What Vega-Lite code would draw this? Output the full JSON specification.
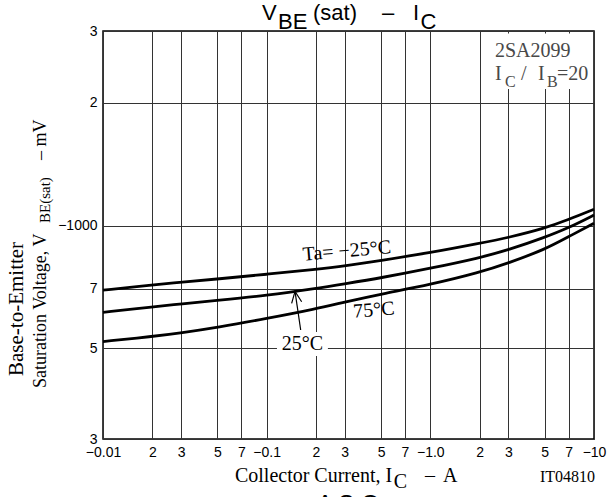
{
  "$schema": "https://vega.github.io/schema/vega-lite/v6.json",
  "width": 491,
  "height": 408,
  "autosize": "none",
  "padding": {"left": 103, "top": 31, "right": 14, "bottom": 58},
  "background": "white",
  "config": {
    "view": {"stroke": "black", "strokeWidth": 1.5},
    "axis": {
      "grid": true, "gridColor": "#333333", "gridWidth": 1, "gridOpacity": 1,
      "ticks": false, "domain": false, "title": null,
      "labelFont": "Liberation Sans", "labelFontSize": 14, "labelColor": "black",
      "labelPadding": 6
    }
  },
  "datasets": {
    "curves": [
      {"T": "-25", "I": 0.01, "V": 695}, {"T": "-25", "I": 0.02, "V": 715}, {"T": "-25", "I": 0.03, "V": 727},
      {"T": "-25", "I": 0.05, "V": 740}, {"T": "-25", "I": 0.1, "V": 760}, {"T": "-25", "I": 0.2, "V": 782},
      {"T": "-25", "I": 0.3, "V": 797}, {"T": "-25", "I": 0.5, "V": 822}, {"T": "-25", "I": 1, "V": 858},
      {"T": "-25", "I": 2, "V": 905}, {"T": "-25", "I": 3, "V": 935}, {"T": "-25", "I": 5, "V": 985},
      {"T": "-25", "I": 7, "V": 1035}, {"T": "-25", "I": 10, "V": 1097},
      {"T": "25", "I": 0.01, "V": 613}, {"T": "25", "I": 0.02, "V": 632}, {"T": "25", "I": 0.03, "V": 643},
      {"T": "25", "I": 0.05, "V": 656}, {"T": "25", "I": 0.1, "V": 674}, {"T": "25", "I": 0.2, "V": 701},
      {"T": "25", "I": 0.3, "V": 720}, {"T": "25", "I": 0.5, "V": 745}, {"T": "25", "I": 1, "V": 786},
      {"T": "25", "I": 2, "V": 834}, {"T": "25", "I": 3, "V": 872}, {"T": "25", "I": 5, "V": 936},
      {"T": "25", "I": 7, "V": 988}, {"T": "25", "I": 10, "V": 1062},
      {"T": "75", "I": 0.01, "V": 520}, {"T": "75", "I": 0.02, "V": 535}, {"T": "75", "I": 0.03, "V": 546},
      {"T": "75", "I": 0.05, "V": 563}, {"T": "75", "I": 0.1, "V": 592}, {"T": "75", "I": 0.2, "V": 625},
      {"T": "75", "I": 0.3, "V": 650}, {"T": "75", "I": 0.5, "V": 680}, {"T": "75", "I": 1, "V": 717},
      {"T": "75", "I": 2, "V": 768}, {"T": "75", "I": 3, "V": 810}, {"T": "75", "I": 5, "V": 874},
      {"T": "75", "I": 7, "V": 940}, {"T": "75", "I": 10, "V": 1014}
    ]
  },
  "layer": [
    {
      "data": {"name": "curves"},
      "mark": {"type": "line", "interpolate": "basis", "color": "black", "strokeWidth": 2.8},
      "encoding": {
        "x": {"field": "I", "type": "quantitative",
          "scale": {"type": "log", "domain": [0.01, 10], "nice": false},
          "axis": {
            "values": [0.01, 0.02, 0.03, 0.05, 0.07, 0.1, 0.2, 0.3, 0.5, 0.7, 1, 2, 3, 5, 7, 10],
            "labelExpr": "datum.value == 0.01 ? '−0.01' : datum.value == 0.1 ? '−0.1' : datum.value == 1 ? '−1.0' : datum.value == 10 ? '−10' : toString(round(datum.value / pow(10, floor(log(datum.value) / LN10 + 0.0001))))",
            "labelFlush": false, "labelOverlap": false
          }},
        "y": {"field": "V", "type": "quantitative",
          "scale": {"type": "log", "domain": [300, 3000], "nice": false},
          "axis": {
            "values": [300, 500, 700, 1000, 2000, 3000],
            "labelExpr": "datum.value == 1000 ? '−1000' : toString(round(datum.value / pow(10, floor(log(datum.value) / LN10 + 0.0001))))",
            "labelFlush": false, "labelOverlap": false
          }},
        "detail": {"field": "T"}
      }
    },
    {
      "data": {"values": [
        {"x1": 0.1156, "x2": 0.2367, "y1": 549, "y2": 479},
        {"x1": 2.3, "x2": 9.85, "y1": 2960, "y2": 2163}
      ]},
      "mark": {"type": "rect", "fill": "white"},
      "encoding": {
        "x": {"field": "x1", "type": "quantitative"},
        "x2": {"field": "x2"},
        "y": {"field": "y1", "type": "quantitative"},
        "y2": {"field": "y2"}
      }
    },
    {
      "data": {"values": [
        {"seg": "shaft", "o": 1, "I": 0.149, "V": 690},
        {"seg": "shaft", "o": 2, "I": 0.1614, "V": 555},
        {"seg": "head", "o": 1, "I": 0.1421, "V": 645},
        {"seg": "head", "o": 2, "I": 0.149, "V": 690},
        {"seg": "head", "o": 3, "I": 0.1636, "V": 651}
      ]},
      "mark": {"type": "line", "color": "black", "strokeWidth": 1.2},
      "encoding": {
        "x": {"field": "I", "type": "quantitative"},
        "y": {"field": "V", "type": "quantitative"},
        "detail": {"field": "seg"},
        "order": {"field": "o"}
      }
    },
    {
      "data": {"values": [
        {"t": "V", "I": 0.0936, "V": 3193},
        {"t": "BE", "I": 0.1173, "V": 3042},
        {"t": "(sat)", "I": 0.1919, "V": 3193},
        {"t": "–", "I": 0.506, "V": 3193},
        {"t": "I", "I": 0.783, "V": 3193},
        {"t": "C", "I": 0.87, "V": 3042}
      ]},
      "mark": {"type": "text", "font": "Liberation Sans", "fontSize": 22, "align": "left", "baseline": "alphabetic", "color": "black"},
      "encoding": {
        "x": {"field": "I", "type": "quantitative"},
        "y": {"field": "V", "type": "quantitative"},
        "text": {"field": "t"}
      }
    },
    {
      "data": {"values": [
        {"t": "2SA2099", "I": 2.48, "V": 2590},
        {"t": "I", "I": 2.48, "V": 2275},
        {"t": "/", "I": 3.58, "V": 2275},
        {"t": "I", "I": 4.55, "V": 2275},
        {"t": "=20", "I": 5.933, "V": 2275}
      ]},
      "mark": {"type": "text", "font": "Liberation Serif", "fontSize": 20, "align": "left", "baseline": "alphabetic", "color": "#484848"},
      "encoding": {
        "x": {"field": "I", "type": "quantitative"},
        "y": {"field": "V", "type": "quantitative"},
        "text": {"field": "t"}
      }
    },
    {
      "data": {"values": [
        {"t": "C", "I": 2.856, "V": 2187},
        {"t": "B", "I": 5.155, "V": 2187}
      ]},
      "mark": {"type": "text", "font": "Liberation Serif", "fontSize": 16, "align": "left", "baseline": "alphabetic", "color": "#484848"},
      "encoding": {
        "x": {"field": "I", "type": "quantitative"},
        "y": {"field": "V", "type": "quantitative"},
        "text": {"field": "t"}
      }
    },
    {
      "data": {"values": [
        {"t": "Ta= −25°C", "I": 0.309, "V": 867},
        {"t": "75°C", "I": 0.452, "V": 621}
      ]},
      "mark": {"type": "text", "font": "Liberation Serif", "fontSize": 20, "align": "center", "baseline": "middle", "angle": 355, "color": "black"},
      "encoding": {
        "x": {"field": "I", "type": "quantitative"},
        "y": {"field": "V", "type": "quantitative"},
        "text": {"field": "t"}
      }
    },
    {
      "data": {"values": [
        {"t": "25°C", "I": 0.1655, "V": 514}
      ]},
      "mark": {"type": "text", "font": "Liberation Serif", "fontSize": 20, "align": "center", "baseline": "middle", "color": "black"},
      "encoding": {
        "x": {"field": "I", "type": "quantitative"},
        "y": {"field": "V", "type": "quantitative"},
        "text": {"field": "t"}
      }
    },
    {
      "data": {"values": [
        {"t": "Collector Current, I", "I": 0.064, "V": 234.9},
        {"t": "–", "I": 0.9268, "V": 234.9},
        {"t": "A", "I": 1.194, "V": 234.9}
      ]},
      "mark": {"type": "text", "font": "Liberation Serif", "fontSize": 20, "align": "left", "baseline": "alphabetic", "color": "black"},
      "encoding": {
        "x": {"field": "I", "type": "quantitative"},
        "y": {"field": "V", "type": "quantitative"},
        "text": {"field": "t"}
      }
    },
    {
      "data": {"values": [
        {"t": "C", "I": 0.5975, "V": 227.6}
      ]},
      "mark": {"type": "text", "font": "Liberation Serif", "fontSize": 20, "align": "left", "baseline": "alphabetic", "color": "black"},
      "encoding": {
        "x": {"field": "I", "type": "quantitative"},
        "y": {"field": "V", "type": "quantitative"},
        "text": {"field": "t"}
      }
    },
    {
      "data": {"values": [
        {"t": "IT04810", "I": 4.673, "V": 234.9}
      ]},
      "mark": {"type": "text", "font": "Liberation Serif", "fontSize": 16, "align": "left", "baseline": "alphabetic", "color": "black"},
      "encoding": {
        "x": {"field": "I", "type": "quantitative"},
        "y": {"field": "V", "type": "quantitative"},
        "text": {"field": "t"}
      }
    },
    {
      "data": {"values": [
        {"t": "A S O", "I": 0.2028, "V": 198.6}
      ]},
      "mark": {"type": "text", "font": "Liberation Sans", "fontSize": 24, "align": "left", "baseline": "alphabetic", "color": "black"},
      "encoding": {
        "x": {"field": "I", "type": "quantitative"},
        "y": {"field": "V", "type": "quantitative"},
        "text": {"field": "t"}
      }
    },
    {
      "data": {"values": [
        {"t": "Base-to-Emitter", "I": 0.003245, "V": 625}
      ]},
      "mark": {"type": "text", "font": "Liberation Serif", "fontSize": 21, "align": "center", "baseline": "alphabetic", "angle": 270, "color": "black"},
      "encoding": {
        "x": {"field": "I", "type": "quantitative"},
        "y": {"field": "V", "type": "quantitative"},
        "text": {"field": "t"}
      }
    },
    {
      "data": {"values": [
        {"t": "Saturation Voltage, V", "I": 0.004486, "V": 400},
        {"t": "–  mV", "I": 0.004486, "V": 1449}
      ]},
      "mark": {"type": "text", "font": "Liberation Serif", "fontSize": 18, "align": "left", "baseline": "alphabetic", "angle": 270, "color": "black"},
      "encoding": {
        "x": {"field": "I", "type": "quantitative"},
        "y": {"field": "V", "type": "quantitative"},
        "text": {"field": "t"}
      }
    },
    {
      "data": {"values": [
        {"t": "BE(sat)", "I": 0.004745, "V": 1015}
      ]},
      "mark": {"type": "text", "font": "Liberation Serif", "fontSize": 15, "align": "left", "baseline": "alphabetic", "angle": 270, "color": "black"},
      "encoding": {
        "x": {"field": "I", "type": "quantitative"},
        "y": {"field": "V", "type": "quantitative"},
        "text": {"field": "t"}
      }
    }
  ]
}
